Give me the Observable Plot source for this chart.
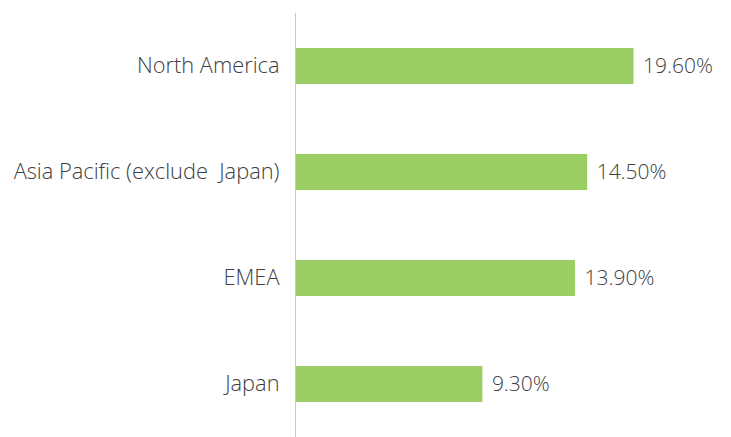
<!DOCTYPE html>
<html>
<head>
<meta charset="utf-8">
<script src="https://cdn.jsdelivr.net/npm/d3@7"></script>
<script src="https://cdn.jsdelivr.net/npm/@observablehq/plot@0.6"></script>
<style>
  html, body { margin: 0; padding: 0; background: #fff; }
  svg text { white-space: pre; }
</style>
</head>
<body>
<div id="chart"></div>
<script>
const regions = ["North America", "Asia Pacific (exclude  Japan)", "EMEA", "Japan"];
const barValues = [16.8, 14.5, 13.9, 9.3];
const valueLabels = ["19.60%", "14.50%", "13.90%", "9.30%"];

const data = regions.map((r, i) => ({region: r, value: barValues[i], label: valueLabels[i]}));

const chart = Plot.plot({
  width: 731,
  height: 437,
  marginLeft: 295,
  marginRight: 0,
  marginTop: 13,
  marginBottom: -1,
  style: {fontFamily: "'Open Sans', sans-serif", fontWeight: 300, color: "#404040", background: "#fff"},
  x: {domain: [0, 21.64], axis: null},
  y: {domain: regions, paddingInner: 0.66, paddingOuter: 0.33, label: null},
  marks: [
    Plot.barX(data, {x: "value", y: "region", fill: "#9ACD63"}),
    Plot.ruleX([0], {stroke: "#c8c8c8", strokeWidth: 1}),
    Plot.text(data, {x: "value", y: "region", text: "label", textAnchor: "start", dx: 9, fontSize: 21, fill: "#404040"}),
    Plot.axisY({tickSize: 0, tickPadding: 16, fontSize: 21.8, label: null, fill: "#404040"})
  ]
});
document.getElementById("chart").appendChild(chart);
</script>
</body>
</html>
